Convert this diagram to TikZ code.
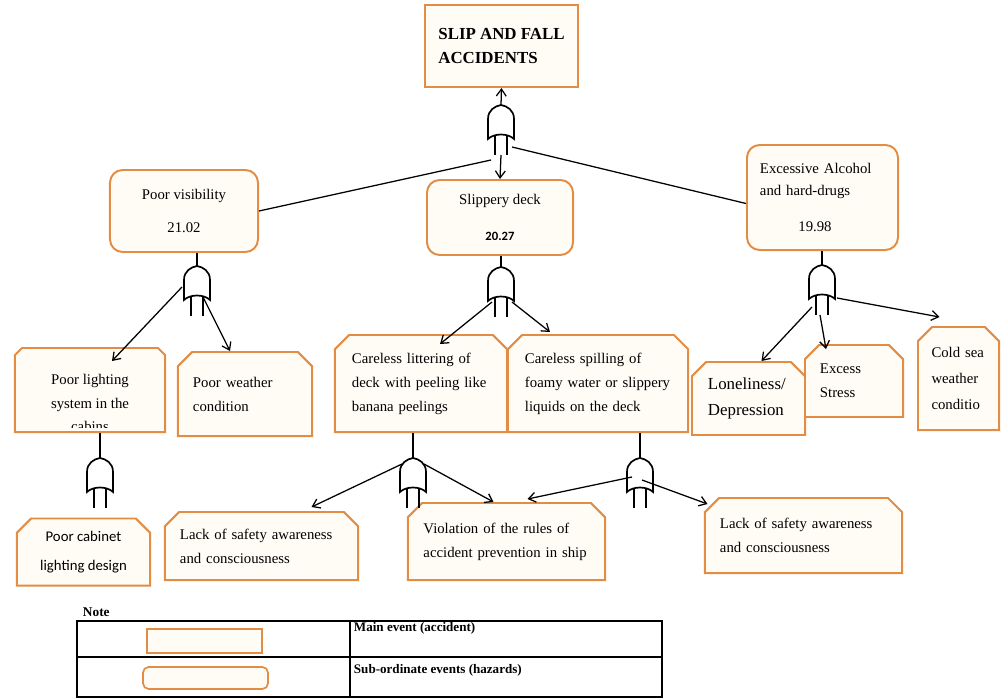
\documentclass[tikz,border=0pt]{standalone}
\usepackage{fontspec}
\setmainfont{Liberation Serif}
\newfontfamily\calibri{Carlito}
\usetikzlibrary{shapes.misc, arrows.meta, calc}

\definecolor{boxline}{RGB}{226,140,68}
\definecolor{boxfill}{RGB}{255,252,245}

\begin{document}
\begin{tikzpicture}[x=0.025cm, y=-0.025cm]
    % settings for this picture
    \tikzset{
      >={Straight Barb[length=5pt,width=7pt]},
      every node/.style={font=\fontsize{10.5}{17}\selectfont},
      mainevent/.style={rectangle, draw=boxline, line width=1.4pt, fill=boxfill, inner sep=0pt},
      subevent/.style={rectangle, rounded corners=9pt, draw=boxline, line width=1.4pt, fill=boxfill, inner sep=0pt, align=center},
      hazard/.style={chamfered rectangle, chamfered rectangle corners={north west, north east},
        chamfered rectangle xsep=7pt, draw=boxline, line width=1.4pt, fill=boxfill, inner sep=0pt},
      link/.style={line width=0.9pt},
      orgate/.pic={
        \draw[line width=1.2pt, fill=white] (-13,34) -- (-13,14) .. controls (-13,5) and (-6,1) .. (0,0)
          .. controls (6,1) and (13,5) .. (13,14) -- (13,34) .. controls (7,28) and (-7,28) .. (-13,34) -- cycle;
        \draw[line width=1.2pt] (-6,30.5) -- (-6,50) (6,30.5) -- (6,50);
      },
    }
    \useasboundingbox (0,0) rectangle (1002,698);

    % main event
    \node[mainevent, minimum width=3.825cm, minimum height=2.05cm, align=left,
      font=\fontsize{12}{17.5}\selectfont\bfseries] (accident) at (501.5,46) {SLIP AND FALL\\ACCIDENTS};

    % sub-ordinate events
    \node[subevent, minimum width=3.7cm, minimum height=2.05cm] (visibility) at (184,211) {Poor visibility\\[6pt]21.02};
    \node[subevent, minimum width=3.65cm, minimum height=1.875cm] (slippery) at (500,217.5)
      {Slippery deck\\[9pt]{\calibri\bfseries\fontsize{9}{11}\selectfont 20.27}};
    \node[subevent, minimum width=3.775cm, minimum height=2.625cm, text width=3.125cm, align=left,
      font=\fontsize{10.5}{15.5}\selectfont] (alcohol) at (822.5,197.5)
      {Excessive Alcohol\\and hard-drugs\\[10pt]\hspace*{2.6em}19.98};

    % hazards
    \node[hazard, minimum width=3.75cm, minimum height=2.1cm] (lighting) at (90,390) {\phantom{x}};
    \begin{scope}
      \clip (17,350) rectangle (163,427.5);
      \node[align=center, font=\fontsize{10.5}{17}\selectfont] (lightingtext) at ($(lighting.center)+(0,13)$)
        {Poor lighting\\system in the\\cabins};
    \end{scope}
    \node[hazard, minimum width=3.35cm, minimum height=2.1cm, text width=2.6cm, align=left] (weather) at (245,394)
      {Poor weather\\condition};
    \node[hazard, minimum width=4.3cm, minimum height=2.425cm, text width=3.45cm, align=left] (littering) at (421,383.5)
      {Careless littering of\\deck with peeling like\\banana peelings};
    \node[hazard, minimum width=4.5cm, minimum height=2.425cm, text width=3.65cm, align=left] (spilling) at (598,383.5)
      {Careless spilling of\\foamy water or slippery\\liquids on the deck};
    \node[hazard, minimum width=2.825cm, minimum height=1.825cm, text width=2.025cm, align=left,
      font=\fontsize{12}{18}\selectfont] (loneliness) at (748.5,398.5) {Loneliness/\\Depression};
    \node[hazard, minimum width=2.45cm, minimum height=1.8cm, text width=1.7cm, align=left] (stress) at (854,381)
      {Excess\\Stress};
    \node[hazard, minimum width=2.025cm, minimum height=2.575cm, text width=1.35cm, align=left,
      font=\fontsize{10.5}{18.5}\selectfont] (coldsea) at (958.5,378.5) {Cold sea\\weather\\conditio};
    \node[hazard, minimum width=3.325cm, minimum height=1.675cm, align=center,
      font=\calibri\fontsize{10.5}{21}\selectfont] (cabinet) at (83.5,552) {Poor cabinet\\lighting design};
    \node[hazard, minimum width=4.825cm, minimum height=1.7cm, text width=4.075cm, align=left] (lackA) at (261.5,546)
      {Lack of safety awareness\\and consciousness};
    \node[hazard, minimum width=4.925cm, minimum height=1.925cm, text width=4.15cm, align=left] (violation) at (506.5,541.5)
      {Violation of the rules of\\accident prevention in ship};
    \node[hazard, minimum width=4.925cm, minimum height=1.875cm, text width=4.175cm, align=left] (lackB) at (803.5,535.5)
      {Lack of safety awareness\\and consciousness};

    % gates
    \coordinate (g0) at (501,105);
    \coordinate (g1) at (197,266);
    \coordinate (g2) at (501,267);
    \coordinate (g3) at (822,265);
    \coordinate (g4) at (100,458);
    \coordinate (g5) at (413,458);
    \coordinate (g6) at (640,458);
    \foreach \g in {0,...,6}
      \pic at (g\g) {orgate};

    \draw[->, link] (g0) -- (accident.south);
    \foreach \g/\b in {1/visibility, 2/slippery, 3/alcohol, 4/lighting, 5/littering, 6/spilling}
      \draw[link] (g\g) -- (g\g |- \b.south);

    % connectors
    \draw[->, link] ($(g0)+(0,50)$) -- (slippery.north);
    \draw[link] ($(g0)+(-10,55)$) -- (visibility.east);
    \draw[link] ($(g0)+(11,42)$) -- ($(alcohol.west)+(0,6)$);

    \draw[->, link] ($(g1)+(-15,21)$) -- ($(lighting.north)+(22,14)$);
    \draw[->, link] ($(g1)+(6,31)$) -- ($(weather.north)+(-15,0)$);

    \draw[->, link] ($(g2)+(-9,35)$) -- ($(littering.north)+(19,10)$);
    \draw[->, link] ($(g2)+(11,35)$) -- ($(spilling.north)+(-48,-2)$);

    \draw[->, link] ($(g3)+(-10,42)$) -- ($(loneliness.north)+(13,0)$);
    \draw[->, link] ($(g3)+(-2,50)$) -- ($(stress.north)+(-28,5)$);
    \draw[->, link] ($(g3)+(15,33)$) -- ($(coldsea.north)+(-19,-9)$);

    \draw[->, link] ($(g5)+(-11,6)$) -- ($(lackA.north)+(50,-4)$);
    \draw[->, link] ($(g5)+(11,6)$) -- ($(violation.north)+(-13,0)$);

    \draw[->, link] ($(g6)+(-8,19)$) -- ($(violation.north)+(21,-3)$);
    \draw[->, link] ($(g6)+(2,22)$) -- ($(lackB.north)+(-96,7)$);

    % note
    \node[anchor=west, font=\fontsize{9.5}{11}\selectfont\bfseries] (note) at (78,612) {Note};
    \draw[line width=0.9pt] (77,621) rectangle (662,697);
    \draw[line width=0.9pt] (350,621) -- (350,697) (77,657) -- (662,657);
    \node[mainevent, line width=1.2pt, minimum width=2.875cm, minimum height=0.6cm] (keymain) at (204.5,641) {};
    \node[subevent, line width=1.2pt, rounded corners=4pt, minimum width=3.125cm, minimum height=0.55cm] (keysub) at (205.5,678) {};
    \node[anchor=west, font=\fontsize{9.3}{11}\selectfont\bfseries] (keymaintext) at (349,628) {Main event (accident)};
    \node[anchor=west, font=\fontsize{9.3}{11}\selectfont\bfseries] (keysubtext) at (349,670) {Sub-ordinate events (hazards)};

  \end{tikzpicture}
\end{document}
